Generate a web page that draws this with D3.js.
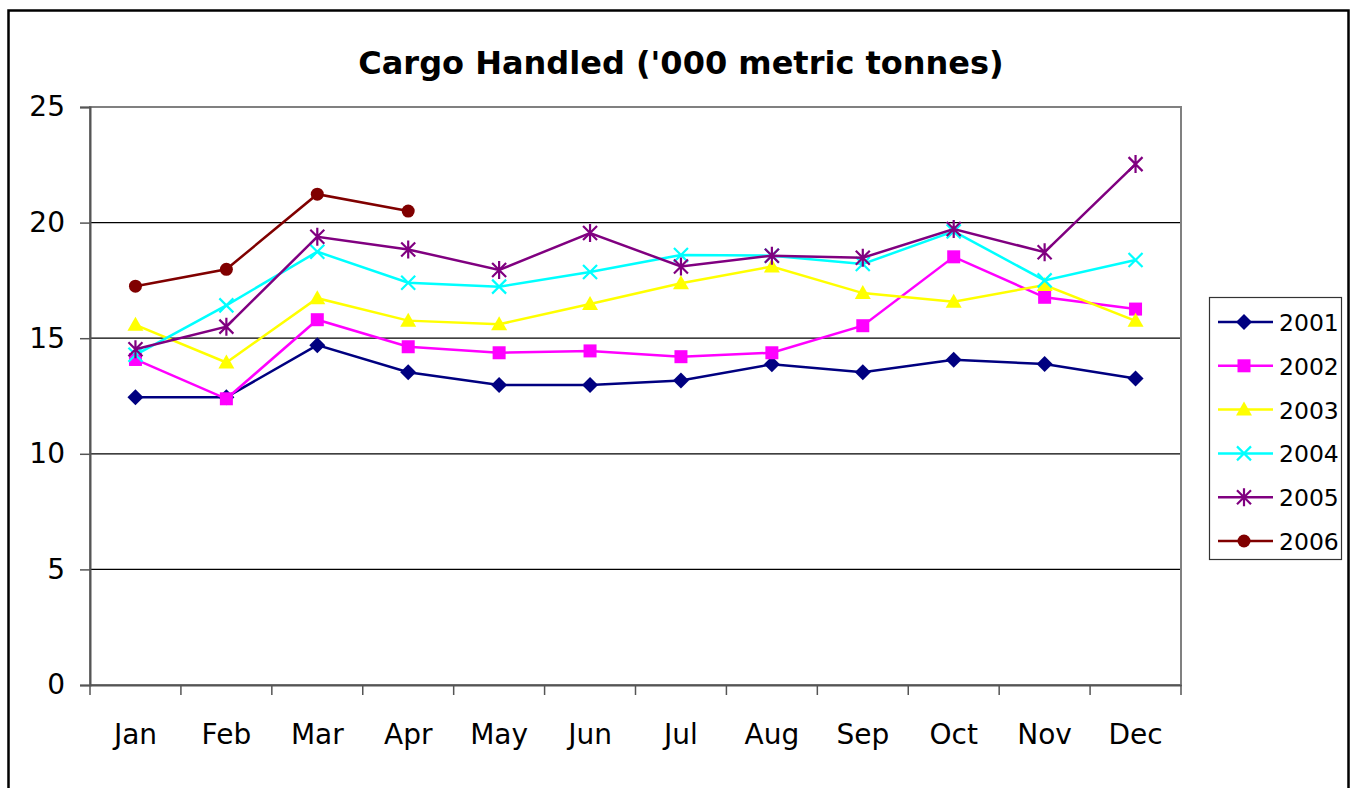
<!DOCTYPE html>
<html>
<head>
<meta charset="utf-8">
<script src="https://cdn.jsdelivr.net/npm/d3@7"></script>
<style>
  body { margin: 0; background: #fff; }
  svg { display: block; }
  text { font-family: "DejaVu Sans", sans-serif; fill: #000; }
</style>
</head>
<body>
<div id="chart"></div>
<script>
// data
const months = ['Jan', 'Feb', 'Mar', 'Apr', 'May', 'Jun', 'Jul', 'Aug', 'Sep', 'Oct', 'Nov', 'Dec'];
const years = ['2001', '2002', '2003', '2004', '2005', '2006'];
const v2001 = [12.45, 12.45, 14.7, 13.53, 12.98, 12.98, 13.17, 13.87, 13.53, 14.07, 13.88, 13.26];
const v2002 = [14.08, 12.38, 15.8, 14.63, 14.37, 14.45, 14.2, 14.37, 15.54, 18.52, 16.77, 16.26];
const v2003 = [15.58, 13.95, 16.73, 15.76, 15.6, 16.48, 17.38, 18.1, 16.95, 16.58, 17.3, 15.75];
const v2004 = [14.28, 16.42, 18.74, 17.4, 17.23, 17.86, 18.6, 18.57, 18.21, 19.62, 17.5, 18.38];
const v2005 = [14.52, 15.5, 19.39, 18.84, 17.95, 19.55, 18.1, 18.57, 18.48, 19.72, 18.72, 22.53];
const v2006 = [17.25, 17.98, 21.23, 20.5];
const yTicks = [0, 5, 10, 15, 20, 25];

const seriesValues = [v2001, v2002, v2003, v2004, v2005, v2006];
const colors = ['#000080', '#ff00ff', '#ffff00', '#00ffff', '#800080', '#800000'];
const shapes = ['diamond', 'square', 'triangle', 'cross', 'star', 'circle'];

const W = 1351, H = 788;
const plot = {left: 90, right: 1181, top: 107, bottom: 685};

const svg = d3.select('#chart').append('svg')
  .attr('width', W)
  .attr('height', H);

svg.append('rect').attr('width', W).attr('height', H).attr('fill', '#fff');

// outer chart frame (runs past the bottom edge like the reference)
svg.append('rect')
  .attr('x', 8.5).attr('y', 10.5)
  .attr('width', 1340).attr('height', 800)
  .attr('fill', 'none')
  .attr('stroke', '#000')
  .attr('stroke-width', 2.5);

svg.append('text')
  .attr('x', 681).attr('y', 74)
  .attr('text-anchor', 'middle')
  .attr('font-size', 32)
  .attr('font-weight', 'bold')
  .text("Cargo Handled ('000 metric tonnes)");

const x = d3.scaleBand().domain(months).range([plot.left, plot.right]);
const y = d3.scaleLinear().domain([0, 25]).range([plot.bottom, plot.top]);

// gridlines
svg.append('g')
  .selectAll('line')
  .data(yTicks.filter(d => d > 0 && d < 25))
  .join('line')
  .attr('x1', plot.left).attr('x2', plot.right)
  .attr('y1', d => y(d)).attr('y2', d => y(d))
  .attr('stroke', '#000')
  .attr('stroke-width', 1.2);

// plot area border
svg.append('rect')
  .attr('x', plot.left).attr('y', plot.top)
  .attr('width', plot.right - plot.left)
  .attr('height', plot.bottom - plot.top)
  .attr('fill', 'none')
  .attr('stroke', '#808080')
  .attr('stroke-width', 2);

// y axis
const yAxis = svg.append('g')
  .attr('transform', `translate(${plot.left},0)`)
  .call(d3.axisLeft(y).tickValues(yTicks).tickSize(10).tickPadding(15));
yAxis.select('.domain').attr('stroke', '#555').attr('stroke-width', 2);
yAxis.selectAll('.tick line').attr('stroke', '#555').attr('stroke-width', 1.5);
yAxis.selectAll('.tick text')
  .attr('font-size', 28)
  .attr('font-family', '"DejaVu Sans", sans-serif')
  .attr('fill', '#000');

// x axis: ticks sit on the band boundaries
const xAxis = svg.append('g')
  .attr('transform', `translate(0,${plot.bottom})`)
  .call(d3.axisBottom(x).tickSize(0).tickPadding(39));
xAxis.select('.domain').attr('stroke', '#555').attr('stroke-width', 2);
xAxis.selectAll('.tick text')
  .attr('font-size', 28)
  .attr('font-family', '"DejaVu Sans", sans-serif')
  .attr('fill', '#000');
xAxis.append('g')
  .selectAll('line')
  .data(months.concat(['end']))
  .join('line')
  .attr('x1', (d, i) => plot.left + i * x.step())
  .attr('x2', (d, i) => plot.left + i * x.step())
  .attr('y1', 0).attr('y2', 10)
  .attr('stroke', '#555')
  .attr('stroke-width', 1.5);

const cx = m => x(m) + x.bandwidth() / 2;

function marker(g, shape, color) {
  if (shape === 'diamond') {
    g.append('path').attr('d', 'M0,-8L8,0L0,8L-8,0Z').attr('fill', color);
  } else if (shape === 'square') {
    g.append('rect').attr('x', -6.5).attr('y', -6.5).attr('width', 13).attr('height', 13).attr('fill', color);
  } else if (shape === 'triangle') {
    g.append('path').attr('d', 'M0,-8L8,6L-8,6Z').attr('fill', color);
  } else if (shape === 'cross') {
    g.append('path').attr('d', 'M-7,-7L7,7M-7,7L7,-7').attr('stroke', color).attr('stroke-width', 2.2);
  } else if (shape === 'star') {
    g.append('path').attr('d', 'M-7,-7L7,7M-7,7L7,-7M0,-9L0,9').attr('stroke', color).attr('stroke-width', 2.2);
  } else {
    g.append('circle').attr('r', 6.5).attr('fill', color);
  }
}

const line = d3.line()
  .x((d, i) => cx(months[i]))
  .y(d => y(d));

seriesValues.forEach((vals, s) => {
  const g = svg.append('g').attr('class', 'series-' + years[s]);
  g.append('path')
    .datum(vals)
    .attr('d', line)
    .attr('fill', 'none')
    .attr('stroke', colors[s])
    .attr('stroke-width', 2.5);
  vals.forEach((v, i) => {
    const m = g.append('g').attr('transform', `translate(${cx(months[i])},${y(v)})`);
    marker(m, shapes[s], colors[s]);
  });
});

// legend
const legend = svg.append('g').attr('transform', 'translate(1209,297)');
legend.append('rect')
  .attr('x', 0.5).attr('y', 0.5)
  .attr('width', 132).attr('height', 262)
  .attr('fill', '#fff')
  .attr('stroke', '#333')
  .attr('stroke-width', 1.2);

years.forEach((yr, s) => {
  const row = legend.append('g').attr('transform', `translate(0,${25 + s * 43.8})`);
  row.append('line')
    .attr('x1', 9).attr('x2', 64)
    .attr('stroke', colors[s])
    .attr('stroke-width', 2.5);
  marker(row.append('g').attr('transform', 'translate(35,0)'), shapes[s], colors[s]);
  row.append('text')
    .attr('x', 70).attr('y', 9)
    .attr('font-size', 23.5)
    .text(yr);
});
</script>
</body>
</html>
